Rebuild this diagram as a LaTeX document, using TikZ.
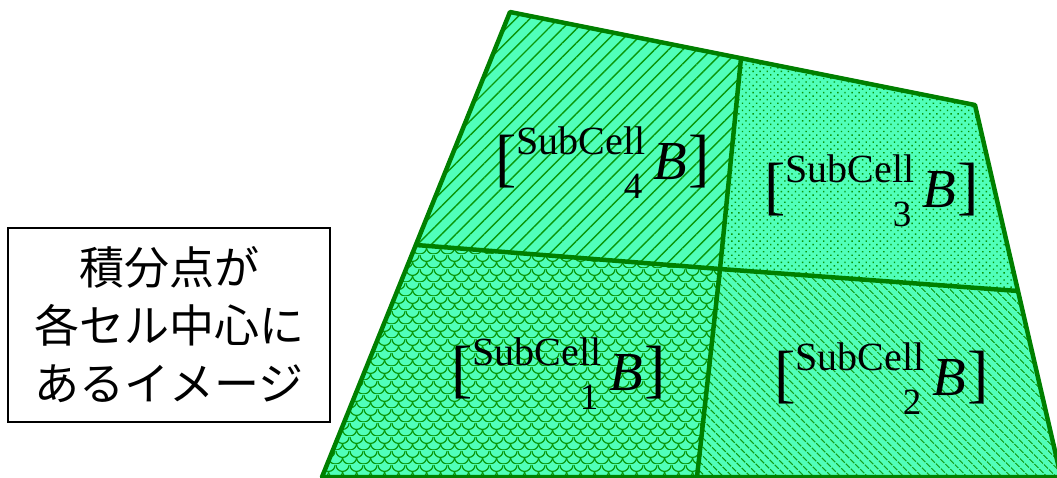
\documentclass[tikz,border=0pt]{standalone}
\usepackage{fontspec}
\setmainfont{Liberation Serif}
\newfontfamily\cjk{Noto Sans CJK JP}
\usetikzlibrary{patterns,patterns.meta}

\definecolor{cellfill}{RGB}{80,255,186}
\definecolor{edgec}{RGB}{0,128,0}
\definecolor{patc}{RGB}{10,150,10}

\tikzdeclarepattern{
  name=myscales,
  type=uncolored,
  bounding box={(0pt,0pt) and (14pt,14pt)},
  tile size={(14pt,14pt)},
  code={
    \draw[line width=1.3pt] (0pt,14pt) arc[start angle=180,end angle=360,radius=7pt];
    \draw[line width=1.3pt] (-7pt,7pt) arc[start angle=180,end angle=360,radius=7pt];
    \draw[line width=1.3pt] (7pt,7pt) arc[start angle=180,end angle=360,radius=7pt];
  }
}

\newcommand\sclab[1]{{\fontsize{64}{64}\selectfont[}\raisebox{25pt}{\fontsize{40}{40}\selectfont SubCell}\llap{\raisebox{-19pt}{\fontsize{37}{37}\selectfont #1}\hspace{3pt}}\hspace{8pt}{\fontsize{55}{55}\selectfont\itshape B}\hspace{1pt}{\fontsize{64}{64}\selectfont]}}

\tikzset{
  cell/.style={fill=cellfill},
  border/.style={draw=edgec, line width=4.5pt, line join=round},
  lab/.style={anchor=base west, inner sep=0pt, text=black},
}

\begin{document}
\begin{tikzpicture}[x=1pt,y=-1pt]
\useasboundingbox (0,0) rectangle (1057,478);
\clip (0,0) rectangle (1057,478);

\coordinate (TL) at (510,12);
\coordinate (TR) at (975,105);
\coordinate (BR) at (1061,477);
\coordinate (BL) at (322,477);
\coordinate (T) at (741,58);
\coordinate (C) at (720,269);
\coordinate (Bt) at (697,477);
\coordinate (L) at (416,245);
\coordinate (R) at (1018,291);

% cells
\fill[cellfill] (TL)--(TR)--(BR)--(BL)--cycle;
\fill[pattern={Lines[angle=45,distance=10pt,line width=1.4pt]}, pattern color=patc] (TL)--(T)--(C)--(L)--cycle;
\fill[pattern={Dots[angle=45,distance=5pt,radius=1pt]}, pattern color=patc] (T)--(TR)--(R)--(C)--cycle;
\fill[pattern={Lines[angle=-45,distance=6.5pt,line width=1.2pt]}, pattern color=patc] (C)--(R)--(BR)--(Bt)--cycle;
\fill[pattern=myscales, pattern color=patc] (L)--(C)--(Bt)--(BL)--cycle;

% borders
\draw[border] (TL)--(TR)--(BR)--(BL)--cycle;
\draw[border] (T)--(C)--(Bt);
\draw[border] (L)--(C)--(R);

% labels
\node[lab] (l4) at (495,180) {\sclab{4}};
\node[lab] (l3) at (764,208) {\sclab{3}};
\node[lab] (l1) at (451,390) {\sclab{1}};
\node[lab] (l2) at (774,395) {\sclab{2}};

% note box
\node[draw=black, line width=2pt, fill=white, minimum width=322pt, minimum height=194pt, inner sep=0pt, align=center, font=\cjk\fontsize{45}{58}\selectfont] (note) at (169,325) {積分点が\\各セル中心に\\あるイメージ};
\end{tikzpicture}
\end{document}
